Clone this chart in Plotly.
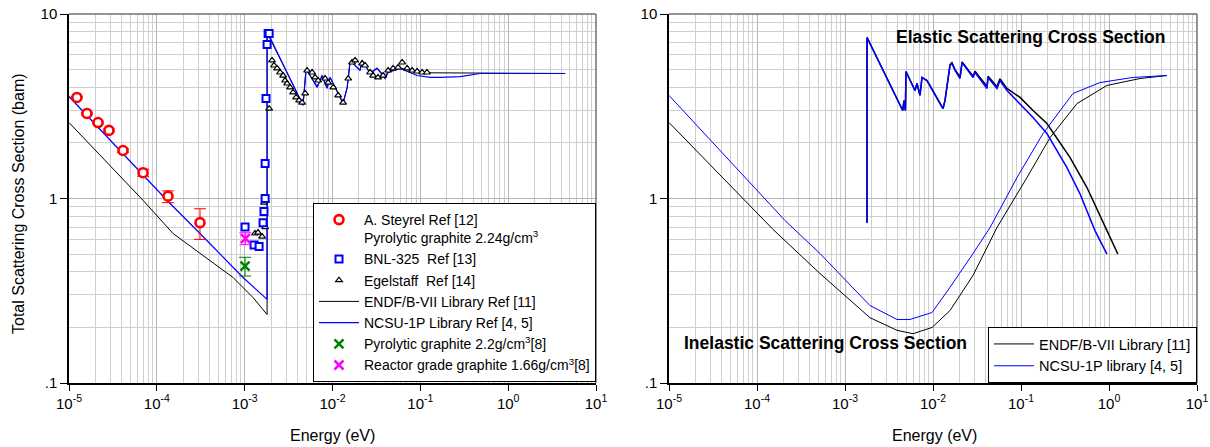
import plotly.graph_objects as go

# ---------------- data (left panel: total scattering) ----------------
steyrel_E = [1.23e-5, 1.60e-5, 2.14e-5, 2.85e-5, 4.12e-5, 6.97e-5, 1.34e-4, 3.10e-4]
steyrel_s = [3.53, 2.89, 2.58, 2.34, 1.82, 1.38, 1.03, 0.74]
steyrel_up = [0.04, 0.04, 0.04, 0.04, 0.04, 0.06, 0.07, 0.14]
steyrel_dn = [0.04, 0.04, 0.04, 0.04, 0.04, 0.06, 0.08, 0.14]

bnl_E = [1.01e-3, 1.28e-3, 1.46e-3, 1.62e-3, 1.66e-3, 1.71e-3, 1.71e-3, 1.75e-3, 1.80e-3, 1.85e-3, 1.90e-3]
bnl_s = [0.70, 0.56, 0.55, 0.74, 0.85, 1.00, 1.55, 3.48, 6.83, 7.84, 7.84]

egel_E = [1.31e-3, 1.42e-3, 1.58e-3, 1.71e-3, 1.66e-3, 1.75e-3, 1.90e-3, 2.05e-3, 2.16e-3, 2.34e-3,
          2.53e-3, 2.74e-3, 2.88e-3, 3.04e-3, 3.29e-3, 3.56e-3, 3.85e-3, 4.17e-3, 4.51e-3, 4.88e-3,
          5.14e-3, 5.86e-3, 6.34e-3, 6.86e-3, 8.24e-3, 8.91e-3, 1.02e-2, 1.16e-2, 1.32e-2, 1.51e-2,
          1.67e-2, 1.81e-2, 2.17e-2, 2.35e-2, 2.68e-2, 2.90e-2, 3.30e-2, 3.77e-2, 4.30e-2, 4.90e-2,
          5.58e-2, 6.21e-2, 7.08e-2, 8.07e-2, 9.20e-2, 0.105, 0.119]
egel_s = [0.646, 0.654, 0.622, 0.70, 0.95, 0.975, 3.07, 5.60, 5.26, 5.07,
          4.82, 4.64, 4.36, 4.20, 4.00, 3.76, 3.53, 3.40, 3.31, 3.71,
          4.94, 4.82, 4.53, 4.36, 4.47, 4.25, 4.00, 3.62, 3.31, 4.47,
          5.46, 5.60, 5.39, 5.26, 4.82, 4.64, 4.53, 4.64, 4.94, 5.07,
          5.13, 5.46, 5.07, 4.94, 4.88, 4.82, 4.82]

pyro_E = [1.01e-3]
pyro_s = [0.43]
pyro_err = [0.05]
reactor_E = [1.02e-3]
reactor_s = [0.607]
reactor_err = [0.045]

endf_tot_E = [1e-5, 7.0e-5, 1.53e-4, 3.10e-4, 7.38e-4, 1.25e-3, 1.80e-3, 1.80e-3, 1.85e-3,
              4.62e-3, 5.0e-3, 6.68e-3, 7.62e-3, 8.67e-3, 9.40e-3, 1.32e-2, 1.47e-2, 1.58e-2,
              1.72e-2, 2.06e-2, 2.17e-2, 2.68e-2, 3.22e-2, 3.97e-2, 4.30e-2, 5.89e-2, 9.20e-2,
              0.129, 0.168, 0.284, 0.480, 1.14, 4.46]
endf_tot_s = [2.58, 0.975, 0.646, 0.503, 0.373, 0.29, 0.235, 7.6, 7.7,
              3.22, 5.0, 4.05, 4.64, 4.0, 4.53, 3.3, 4.0, 5.4,
              5.39, 4.98, 5.6, 4.8, 5.1, 4.55, 4.9, 5.1, 4.85,
              4.8, 4.8, 4.78, 4.76, 4.76, 4.76]

ncsu_tot_E = [1e-5, 1.31e-4, 3.10e-4, 9.59e-4, 1.80e-3, 1.80e-3, 1.85e-3,
              4.62e-3, 5.0e-3, 6.68e-3, 7.62e-3, 8.67e-3, 9.40e-3, 1.32e-2, 1.47e-2, 1.58e-2,
              1.72e-2, 2.06e-2, 2.17e-2, 2.68e-2, 3.22e-2, 3.97e-2, 4.30e-2, 5.89e-2, 9.20e-2,
              0.129, 0.168, 0.284, 0.480, 1.14, 4.46]
ncsu_tot_s = [3.57, 0.975, 0.646, 0.373, 0.284, 7.5, 7.84,
              3.19, 5.07, 4.0, 4.64, 3.95, 4.53, 3.27, 4.0, 5.46,
              5.39, 4.94, 5.6, 4.76, 5.07, 4.47, 4.82, 5.07, 4.64,
              4.53, 4.53, 4.58, 4.76, 4.76, 4.76]

# ---------------- data (right panel: elastic / inelastic) ----------------
ncsu_el_E = [1.78e-3, 1.78e-3, 4.53e-3, 4.68e-3, 4.86e-3, 4.93e-3, 6.24e-3, 6.58e-3, 7.11e-3, 7.50e-3,
             8.55e-3, 1.30e-2, 1.37e-2, 1.56e-2, 1.64e-2, 1.78e-2, 2.03e-2, 2.14e-2, 2.85e-2, 3.00e-2,
             4.11e-2, 4.22e-2, 5.33e-2, 5.77e-2, 6.93e-2, 9.75e-2, 0.137, 0.197, 0.333, 0.468, 0.693, 0.948]
ncsu_el_s = [0.74, 7.46, 3.00, 3.39, 3.00, 4.88, 3.85, 4.20, 3.62, 4.53,
             4.36, 3.07, 3.40, 5.26, 5.39, 4.94, 4.47, 5.46, 4.53, 4.82,
             3.95, 4.53, 3.95, 4.36, 3.85, 3.27, 2.75, 2.25, 1.47, 1.06, 0.67, 0.50]

endf_el_E = [1.78e-3, 1.78e-3, 4.53e-3, 4.68e-3, 4.86e-3, 4.93e-3, 6.24e-3, 6.58e-3, 7.11e-3, 7.50e-3,
             8.55e-3, 1.30e-2, 1.37e-2, 1.56e-2, 1.64e-2, 1.78e-2, 2.03e-2, 2.14e-2, 2.85e-2, 3.00e-2,
             4.11e-2, 4.22e-2, 5.33e-2, 5.77e-2, 6.93e-2, 9.75e-2, 0.137, 0.197, 0.36, 0.56, 0.948, 1.26]
endf_el_s = [0.74, 7.46, 3.00, 3.39, 3.00, 4.88, 3.85, 4.20, 3.62, 4.53,
             4.36, 3.07, 3.40, 5.30, 5.45, 5.0, 4.55, 5.5, 4.6, 4.9,
             4.05, 4.6, 4.05, 4.45, 3.95, 3.53, 3.00, 2.55, 1.67, 1.15, 0.67, 0.50]

endf_in_E = [1e-5, 1.52e-4, 5.20e-4, 1.92e-3, 3.90e-3, 5.93e-3, 9.75e-3, 1.56e-2, 2.85e-2,
             5.33e-2, 0.117, 0.214, 0.433, 0.948, 2.25, 4.56]
endf_in_s = [2.58, 0.68, 0.392, 0.226, 0.193, 0.185, 0.200, 0.247, 0.383,
             0.696, 1.30, 2.14, 3.27, 4.10, 4.47, 4.64]

ncsu_in_E = [1e-5, 2.08e-4, 5.20e-4, 1.92e-3, 3.90e-3, 5.48e-3, 9.75e-3, 1.56e-2, 2.85e-2,
             4.45e-2, 9.02e-2, 0.178, 0.390, 0.791, 1.87, 4.56]
ncsu_in_s = [3.62, 0.76, 0.503, 0.263, 0.221, 0.221, 0.241, 0.330, 0.503,
             0.696, 1.30, 2.25, 3.71, 4.25, 4.53, 4.64]

x_tickvals = [1e-5, 1e-4, 1e-3, 1e-2, 1e-1, 1e0, 1e1]
x_ticktext = ["10<sup>-5</sup>", "10<sup>-4</sup>", "10<sup>-3</sup>", "10<sup>-2</sup>",
              "10<sup>-1</sup>", "10<sup>0</sup>", "10<sup>1</sup>"]
y_tickvals = [0.1, 1, 10]
y_ticktext = [".1", "1", "10"]

FONT = "Liberation Sans, Arial, sans-serif"
BLUE = "#0000ff"

fig = go.Figure()

# ---- left panel lines ----
fig.add_trace(go.Scatter(x=endf_tot_E, y=endf_tot_s, mode="lines", name="ENDF/B-VII Library Ref [11]",
                         line=dict(color="black", width=1), xaxis="x", yaxis="y", legend="legend", legendrank=4))
fig.add_trace(go.Scatter(x=ncsu_tot_E, y=ncsu_tot_s, mode="lines", name="NCSU-1P Library Ref [4, 5]",
                         line=dict(color=BLUE, width=1.2), xaxis="x", yaxis="y", legend="legend", legendrank=5))
# ---- left panel markers ----
fig.add_trace(go.Scatter(x=egel_E, y=egel_s, mode="markers", name="Egelstaff  Ref [14]",
                         marker=dict(symbol="triangle-up", size=6, color="white", line=dict(color="black", width=1.2)),
                         xaxis="x", yaxis="y", legend="legend", legendrank=3))
fig.add_trace(go.Scatter(x=bnl_E, y=bnl_s, mode="markers", name="BNL-325  Ref [13]",
                         marker=dict(symbol="square", size=7, color="white", line=dict(color=BLUE, width=2)),
                         xaxis="x", yaxis="y", legend="legend", legendrank=2))
fig.add_trace(go.Scatter(x=steyrel_E, y=steyrel_s, mode="markers",
                         name="A. Steyrel Ref [12]<br>Pyrolytic graphite 2.24g/cm<sup>3</sup>",
                         marker=dict(symbol="circle", size=9, color="white", line=dict(color="#ff0000", width=2.6)),
                         error_y=dict(type="data", array=steyrel_up, arrayminus=steyrel_dn, color="#ff0000",
                                      thickness=1, width=6),
                         xaxis="x", yaxis="y", legend="legend", legendrank=1))
fig.add_trace(go.Scatter(x=pyro_E, y=pyro_s, mode="markers", name="Pyrolytic graphite 2.2g/cm<sup>3</sup>[8]",
                         marker=dict(symbol="x-thin", size=9, color="#008000", line=dict(color="#008000", width=2.5)),
                         error_y=dict(type="data", array=pyro_err, color="#008000", thickness=1, width=6),
                         xaxis="x", yaxis="y", legend="legend", legendrank=6))
fig.add_trace(go.Scatter(x=reactor_E, y=reactor_s, mode="markers",
                         name="Reactor grade graphite 1.66g/cm<sup>3</sup>[8]",
                         marker=dict(symbol="x-thin", size=9, color="#ff00ff", line=dict(color="#ff00ff", width=2.5)),
                         error_y=dict(type="data", array=reactor_err, color="#ff00ff", thickness=1, width=6),
                         xaxis="x", yaxis="y", legend="legend", legendrank=7))

# ---- right panel ----
fig.add_trace(go.Scatter(x=endf_in_E, y=endf_in_s, mode="lines", name="ENDF/B-VII Library [11]",
                         line=dict(color="black", width=1), xaxis="x2", yaxis="y2", legend="legend2", legendrank=1))
fig.add_trace(go.Scatter(x=endf_el_E, y=endf_el_s, mode="lines", name="ENDF/B-VII Library [11]",
                         line=dict(color="black", width=1.5), xaxis="x2", yaxis="y2", legend="legend2",
                         showlegend=False))
fig.add_trace(go.Scatter(x=ncsu_in_E, y=ncsu_in_s, mode="lines", name="NCSU-1P library [4, 5]",
                         line=dict(color=BLUE, width=1), xaxis="x2", yaxis="y2", legend="legend2", legendrank=2))
fig.add_trace(go.Scatter(x=ncsu_el_E, y=ncsu_el_s, mode="lines", name="NCSU-1P library [4, 5]",
                         line=dict(color=BLUE, width=1.5), xaxis="x2", yaxis="y2", legend="legend2",
                         showlegend=False))

minor_x = [m * 10 ** e for e in range(-5, 1) for m in range(2, 10)]
minor_y = [m * 10 ** e for e in range(-1, 1) for m in range(2, 10)]

def xaxis(domain, anchor):
    return dict(type="log", range=[-5, 1], domain=domain, anchor=anchor, automargin=False,
                tickvals=x_tickvals, ticktext=x_ticktext, ticks="outside", ticklen=6, tickcolor="black",
                tickfont=dict(family=FONT, size=15, color="black"),
                showline=True, linecolor="black", linewidth=1.5, mirror=False,
                showgrid=True, gridcolor="#b4b4b4", gridwidth=1, zeroline=False,
                minor=dict(tickvals=minor_x, showgrid=True, gridcolor="#cfcfcf", gridwidth=1.2, ticks=""))

def yaxis(anchor):
    return dict(type="log", range=[-1, 1], domain=[1 - 383 / 447, 1 - 14 / 447], anchor=anchor,
                automargin=False,
                tickvals=y_tickvals, ticktext=y_ticktext, ticks="outside", ticklen=7, tickcolor="black",
                tickfont=dict(family=FONT, size=15, color="black"),
                showline=True, linecolor="black", linewidth=1.5, mirror=False,
                showgrid=True, gridcolor="#b4b4b4", gridwidth=1, zeroline=False,
                minor=dict(tickvals=minor_y, showgrid=True, gridcolor="#cfcfcf", gridwidth=1.2, ticks=""))

shapes = []
for xr, yr in (("x", "y"), ("x2", "y2")):
    shapes.append(dict(type="line", xref=xr + " domain", yref=yr + " domain", x0=0, x1=1, y0=1, y1=1,
                       line=dict(color="#707070", width=1.5)))
    shapes.append(dict(type="line", xref=xr + " domain", yref=yr + " domain", x0=1, x1=1, y0=0, y1=1,
                       line=dict(color="#707070", width=1.5)))

annotations = [
    dict(text="Total Scattering Cross Section (bam)", xref="paper", yref="paper", x=18 / 1210, y=1 - 204 / 447,
         textangle=-90, showarrow=False, font=dict(family=FONT, size=16, color="black"),
         xanchor="center", yanchor="middle"),
    dict(text="Energy (eV)", xref="paper", yref="paper", x=332 / 1210, y=1 - 435 / 447, showarrow=False,
         font=dict(family=FONT, size=16, color="black"), xanchor="center", yanchor="middle"),
    dict(text="Energy (eV)", xref="paper", yref="paper", x=934 / 1210, y=1 - 435 / 447, showarrow=False,
         font=dict(family=FONT, size=16, color="black"), xanchor="center", yanchor="middle"),
    dict(text="<b>Elastic Scattering Cross Section</b>", xref="paper", yref="paper", x=894 / 1210,
         y=1 - 37 / 447, showarrow=False, font=dict(family=FONT, size=17.5, color="black"),
         xanchor="left", yanchor="middle"),
    dict(text="<b>Inelastic Scattering Cross Section</b>", xref="paper", yref="paper", x=682 / 1210,
         y=1 - 343 / 447, showarrow=False, font=dict(family=FONT, size=17.5, color="black"),
         xanchor="left", yanchor="middle"),
]

fig.update_layout(
    width=1210, height=447,
    margin=dict(l=0, r=0, t=0, b=0),
    paper_bgcolor="white", plot_bgcolor="white",
    font=dict(family=FONT, size=13, color="black"),
    xaxis=xaxis([69 / 1210, 596 / 1210], "y"),
    yaxis=yaxis("x"),
    xaxis2=xaxis([669 / 1210, 1197 / 1210], "y2"),
    yaxis2=yaxis("x2"),
    shapes=shapes,
    annotations=annotations,
    legend=dict(x=596 / 1210, y=1 - 382 / 447, xanchor="right", yanchor="bottom",
                bgcolor="white", bordercolor="black", borderwidth=1, valign="top", itemwidth=40,
                font=dict(family=FONT, size=14, color="black"), tracegroupgap=0),
    legend2=dict(x=1197 / 1210, y=1 - 383 / 447, xanchor="right", yanchor="bottom", itemwidth=40,
                 bgcolor="white", bordercolor="black", borderwidth=1,
                 font=dict(family=FONT, size=14.5, color="black")),
)

fig.write_html("out.html", config={"displayModeBar": False},
               post_script="document.body.style.margin='0';document.body.style.padding='0';"
                           "document.body.style.overflow='hidden';")
